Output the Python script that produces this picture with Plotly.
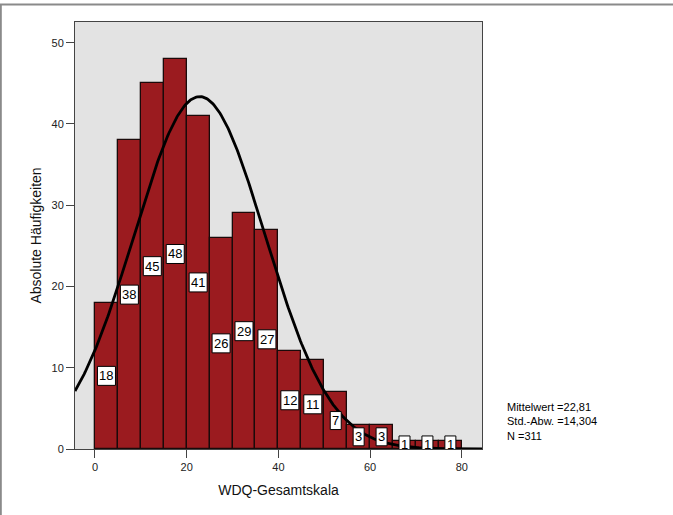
import numpy as np
import plotly.graph_objects as go

# ---- data ----
bin_centers = [2.5, 7.5, 12.5, 17.5, 22.5, 27.5, 32.5, 37.5, 42.5, 47.5, 52.5, 57.5, 62.5, 67.5, 72.5, 77.5]
counts = [18, 38, 45, 48, 41, 26, 29, 27, 12, 11, 7, 3, 3, 1, 1, 1]
bin_width = 5
mean_val = 22.81
std_val = 14.304
n_val = 311
x_ticks = [0, 20, 40, 60, 80]
y_ticks = [0, 10, 20, 30, 40, 50]
stats_lines = ["Mittelwert =22,81", "Std.-Abw. =14,304", "N =311"]

# ---- layout geometry ----
W, H = 673, 515
ML, MR, MT, MB = 75, 191, 22, 66
PW, PH = W - ML - MR, H - MT - MB
x_range = [-4.36, 84.4]
y_range = [0, 52.55]

def px_x(px):
    return (px - ML) / PW

def px_y(py):
    return (H - MB - py) / PH

FONT = "Liberation Sans, Arial, Helvetica, sans-serif"

fig = go.Figure()

fig.add_trace(go.Bar(
    x=bin_centers, y=counts, width=[bin_width] * len(counts),
    marker=dict(color="#9B1B1F", line=dict(color="#1a0a0a", width=1.3)),
    hoverinfo="skip", showlegend=False,
))

# normal curve fitted with the displayed mean / sd / N
xc = np.linspace(x_range[0], x_range[1], 400)
yc = n_val * bin_width / (std_val * np.sqrt(2 * np.pi)) * np.exp(-0.5 * ((xc - mean_val) / std_val) ** 2)
fig.add_trace(go.Scatter(
    x=xc, y=yc, mode="lines", line=dict(color="black", width=2.8),
    hoverinfo="skip", showlegend=False,
))

shapes = []
annotations = []
for xcen, c in zip(bin_centers, counts):
    label = str(c)
    hw = 9 if len(label) > 1 else 5.5
    hh = 9.5 if len(label) > 1 else 9
    shapes.append(dict(
        type="rect", xref="x", yref="y", xsizemode="pixel", ysizemode="pixel",
        xanchor=xcen, yanchor=c / 2, x0=-hw, x1=hw, y0=-hh, y1=hh,
        fillcolor="white", line=dict(color="black", width=1), layer="above",
    ))
    annotations.append(dict(
        x=xcen, y=c / 2, xref="x", yref="y", text=label, showarrow=False,
        font=dict(family=FONT, size=13, color="black"),
        xanchor="center", yanchor="middle",
    ))

# outer frame (top and left edges)
shapes.append(dict(type="line", xref="paper", yref="paper",
                   x0=px_x(0), x1=px_x(W), y0=px_y(4.5), y1=px_y(4.5),
                   line=dict(color="#8a8a8a", width=2)))
shapes.append(dict(type="line", xref="paper", yref="paper",
                   x0=px_x(0.8), x1=px_x(0.8), y0=px_y(4.5), y1=px_y(H),
                   line=dict(color="#8a8a8a", width=2)))

annotations.append(dict(
    x=px_x(505), y=px_y(399), xref="paper", yref="paper",
    text="<br>".join(stats_lines), showarrow=False, align="left",
    xanchor="left", yanchor="top",
    font=dict(family=FONT, size=11, color="black"),
))

fig.update_layout(
    width=W, height=H,
    margin=dict(l=ML, r=MR, t=MT, b=MB, pad=0),
    paper_bgcolor="white", plot_bgcolor="#E3E3E3",
    bargap=0, showlegend=False,
    shapes=shapes, annotations=annotations,
    font=dict(family=FONT, color="#222"),
    xaxis=dict(
        range=x_range, tickvals=x_ticks, ticktext=[str(v) for v in x_ticks],
        showgrid=False, zeroline=False, showline=True, mirror=True,
        linecolor="#444", linewidth=1, ticks="outside", ticklen=8, tickcolor="#444",
        tickfont=dict(size=11, family=FONT, color="#222"),
        title=dict(text="WDQ-Gesamtskala", font=dict(size=14, family=FONT, color="#111"), standoff=12),
        automargin=False,
    ),
    yaxis=dict(
        range=y_range, tickvals=y_ticks, ticktext=[str(v) for v in y_ticks],
        showgrid=False, zeroline=False, showline=True, mirror=True,
        linecolor="#444", linewidth=1, ticks="outside", ticklen=8, tickcolor="#444",
        tickfont=dict(size=11, family=FONT, color="#222"),
        title=dict(text="Absolute Häufigkeiten", font=dict(size=14, family=FONT, color="#111"), standoff=6),
        automargin=False,
    ),
)

fig.write_html(
    "out.html",
    config={"displayModeBar": False},
    post_script="document.body.style.margin='0';document.body.style.overflow='hidden';",
)
